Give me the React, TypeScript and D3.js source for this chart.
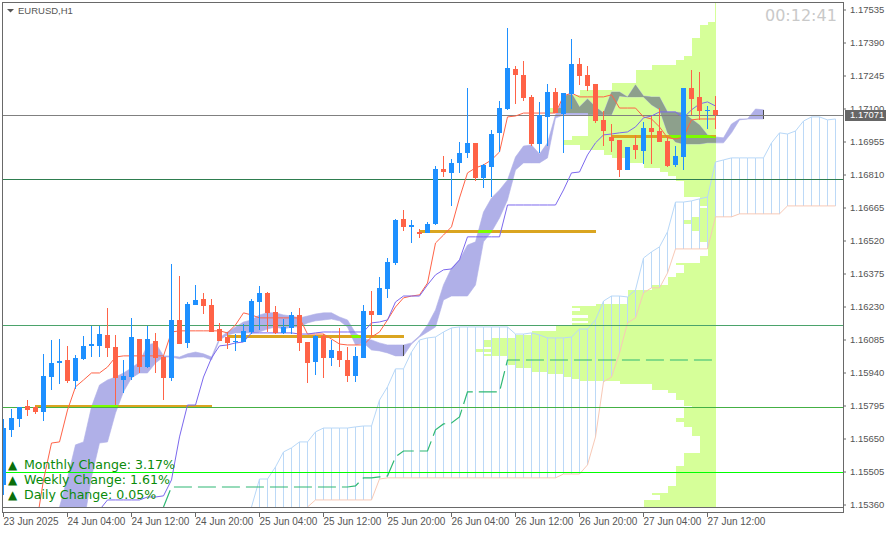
import React, { useRef, useEffect } from 'react';
import * as d3 from "d3";

// all prices in points (1.17071 = 117071)
const opens = [115446,115688,115736,115793,115789,115767,115920,115982,115995,115903,116000,116057,116057,116105,116052,115907,115920,116087,115964,116079,116008,115916,116171,116070,116237,116263,116237,116131,116096,116074,116074,116118,116250,116290,116206,116114,116136,116193,116074,115986,116101,116004,116035,115995,115925,116004,116210,116193,116307,116421,116615,116580,116558,116553,116593,116834,116817,116861,116905,116949,116795,116843,116993,117098,117274,117247,117151,116944,117063,117173,117076,117164,117296,117247,117208,117050,116975,116962,116830,116940,116914,117015,117001,116957,116852,116887,117190,117151,117089,117094];
const highs = [115736,115780,115789,115819,115793,116022,116083,116087,116057,116017,116101,116145,116145,116224,116105,115995,116180,116087,116145,116114,116013,116417,116364,116250,116325,116290,116263,116158,116118,116109,116153,116263,116320,116294,116232,116175,116206,116224,116074,116105,116109,116083,116136,116052,116052,116237,116298,116360,116443,116615,116654,116610,116571,116602,116848,116892,116878,116953,117190,116949,116856,117006,117133,117454,117287,117309,117160,117129,117208,117190,117168,117406,117322,117287,117208,117089,117032,116962,116931,116984,117041,117067,117102,116975,116935,117190,117269,117261,117111,117155];
const lows = [115402,115657,115701,115749,115758,115727,115863,115890,115894,115868,115995,116008,116008,116008,115797,115850,115907,115938,115960,115938,115819,115903,116065,116048,116237,116197,116118,116079,116043,116035,116074,116109,116127,116118,116109,116109,116109,116035,115894,115929,115916,115969,115964,115899,115899,116004,116101,116193,116268,116413,116562,116509,116531,116553,116588,116799,116672,116817,116883,116782,116751,116711,116909,117094,117120,117133,116935,116905,116935,117080,116905,117098,117204,117177,117037,116935,116909,116799,116830,116878,116856,116856,116953,116843,116843,116830,117072,117050,117010,117010];
const closes = [115696,115740,115789,115775,115767,115925,115982,115991,115903,116004,116057,116065,116109,116048,115916,115925,116096,115964,116087,116004,115916,116171,116065,116241,116259,116232,116118,116079,116070,116079,116123,116254,116290,116202,116114,116140,116193,116070,115982,116101,116004,116039,115995,115925,116013,116210,116193,116312,116426,116610,116580,116588,116549,116593,116834,116821,116861,116905,116949,116795,116852,116988,117102,117278,117247,117146,116944,117072,117173,117080,117168,117296,117243,117199,117045,117001,116957,116830,116931,116918,117015,116997,116953,116848,116892,117190,117142,117089,117094,117071];

// starts at bar 4
const tenkan = [115248,115468,115630,115635,115775,115877,115907,115938,115938,115964,116008,116013,116013,116013,116013,116013,116013,116118,116123,116123,116123,116123,116123,116123,116114,116149,116202,116193,116180,116180,116180,116180,116180,116180,116109,116109,116109,116087,116065,116061,116061,116061,116096,116118,116171,116228,116268,116276,116281,116333,116509,116544,116580,116707,116817,116839,116852,116874,116909,117063,117067,117080,117080,117080,117080,117080,117155,117168,117151,117151,117151,117151,117160,117102,117102,117102,117063,117054,117019,116971,116966,116975,117050,117054,117054,117054];
// starts at bar 12
const kijun = [115336,115380,115380,115380,115380,115380,115393,115393,115398,115468,115657,115797,115797,115920,116004,116057,116061,116070,116074,116114,116114,116114,116114,116114,116114,116109,116109,116114,116118,116118,116118,116118,116118,116118,116158,116162,116171,116250,116276,116276,116276,116325,116369,116391,116395,116435,116536,116536,116536,116536,116536,116676,116676,116676,116676,116676,116676,116676,116742,116817,116821,116896,116949,116984,116988,116993,116997,117019,117059,117067,117085,117085,117085,117059,117094,117120,117129,117111];
// starts at bar 20
const chikou = [115349,115437,115437,115437,115437,115437,115437,115437,115437,115437,115437,115437,115437,115437,115437,115437,115437,115437,115437,115437,115437,115437,115437,115437,115442,115477,115477,115481,115485,115569,115595,115595,115595,115595,115688,115714,115718,115745,115855,115855,115855,115855,115855,115995,115995,115995,115995,115995,115995,115995,115995,115995,115995,115995,115995,115995,115995,115995,115995,115995,115995,115995,115995,115995,115995,115995,115995,115995,115995,115995];

// lavender cloud, starts at bar 7
const cloudTop = [115349,115477,115622,115635,115789,115885,115907,115920,115938,115960,115986,116061,116070,116013,116013,116008,116022,116030,116022,116008,116092,116118,116140,116162,116171,116193,116202,116202,116193,116188,116180,116188,116197,116202,116202,116184,116171,116114,116087,116083,116070,116061,116061,116061,116070,116101,116149,116215,116325,116399,116435,116500,116514,116645,116707,116742,116786,116887,116935,116940,116900,116949,117072,117151,117168,117107,117142,117107,117080,117173,117173,117151,117204,117155,117151,117151,117085,117085,117080,117054,117028,116984,116975,116971,117032,117054,117054,117098,117094];
const cloudBottom = [115349,115204,115248,115270,115481,115630,115635,115762,115855,115916,115938,115938,115982,116008,116008,116000,116008,116008,116008,115995,116083,116105,116114,116114,116114,116118,116131,116140,116131,116140,116140,116158,116167,116171,116175,116167,116140,116061,116070,116039,116035,116026,116013,116013,116065,116096,116118,116140,116259,116276,116276,116276,116325,116514,116558,116619,116698,116830,116861,116861,116861,116883,117058,117072,117072,117072,117072,117072,117072,117072,117155,117151,117151,117151,117116,117094,116993,116953,116944,116944,116944,116949,116949,116949,116993,117050,117054,117054,117054];

// hatched cloud, starts at bar 31
const spanUpper = [115349,115472,115472,115525,115591,115609,115635,115635,115679,115696,115696,115696,115696,115701,115705,115705,115819,115877,115956,115956,116030,116083,116092,116096,116118,116136,116140,116140,116140,116140,116140,116140,116140,116109,116109,116114,116105,116092,116092,116092,116096,116131,116131,116171,116254,116276,116276,116272,116303,116443,116470,116492,116558,116689,116689,116694,116703,116711,116865,116874,116883,116883,116883,116883,116883,116949,116993,116988,117001,117045,117063,117063,117050,117054];
const spanLower = [115248,115248,115248,115248,115248,115248,115248,115349,115380,115380,115380,115380,115380,115380,115380,115380,115472,115477,115477,115477,115477,115477,115477,115477,115477,115477,115477,115477,115477,115477,115477,115477,115477,115477,115477,115477,115477,115477,115477,115494,115494,115494,115534,115657,115899,115920,116026,116158,116180,116290,116312,116312,116377,116483,116483,116483,116483,116483,116624,116624,116624,116637,116637,116637,116637,116637,116637,116672,116672,116672,116672,116672,116672,116672];

// volume profile: bin edges from the top, volume in tick counts
const profileEdges = [117564,117480,117467,117410,117331,117313,117291,117269,117212,117182,117160,117102,117080,116979,116962,116940,116918,116896,116883,116861,116839,116821,116804,116782,116711,116672,116663,116624,116610,116593,116562,116514,116452,116421,116413,116377,116360,116325,116303,116241,116232,116224,116210,116193,116180,116167,116158,116145,116123,116105,116092,116083,116052,116043,116030,116022,116013,115973,115960,115942,115934,115920,115912,115903,115890,115863,115850,115819,115793,115784,115740,115723,115701,115661,115586,115529,115442,115411,115402,115380,115349];
const profileVolume = [0.1,1,2,3,4,5,8,10,13,17,19,21,16,18,19,17,14,13,11,9,7,6,5,4,2,1,2,3,4,3,2,1,2,5,4,5,6,8,11,15,18,17,18,16,18,16,18,20,23,25,28,29,28,30,28,29,26,25,23,21,19,18,17,12,8,6,5,4,3,4,5,4,3,2,4,5,6,8,7,9];

const priceTicks = [115360,115505,115650,115795,115940,116085,116230,116375,116520,116665,116810,116955,117100,117245,117390,117535];
const dateLabels = ["23 Jun 2025","24 Jun 04:00","24 Jun 12:00","24 Jun 20:00","25 Jun 04:00","25 Jun 12:00","25 Jun 20:00","26 Jun 04:00","26 Jun 12:00","26 Jun 20:00","27 Jun 04:00","27 Jun 12:00"];
const dateBars = [0,8,16,24,32,40,48,56,64,72,80,88];

const levelPrices = [116790,116147,115789,115501,117071];
const levelColors = ["#2e7d4f","#4ba36b","#44b044","#00ff00","#808080"];

const pocPrices = [115789,116096,116558,116975];
const pocStart = [4,28,52,76];
const pocEnd = [26,50,74,89];

const changeLabels = ["Monthly Change: 3.17%","Weekly Change: 1.61%","Daily Change: 0.05%"];

const W = 889, H = 533;

export default function App() {
  const svgRef = useRef<SVGSVGElement>(null);

  useEffect(() => {
    if (!svgRef.current) return;
    const svg = d3.select(svgRef.current);
    svg.selectAll("*").remove();

    const left = 3, right = 843, top = 3, bottom = 507;
    const x = d3.scaleLinear().domain([0, 89]).range([3, 715]);
    const y = d3.scaleLinear().domain([115360, 117535]).range([504.5, 9.5]);
    const vol = d3.scaleLinear().domain([0, 1]).range([716, 708]);
    const font = "'Liberation Sans', sans-serif";

    svg.append("rect").attr("width", W).attr("height", H).attr("fill", "#fff");

    const defs = svg.append("defs");
    defs.append("clipPath").attr("id", "plot").append("rect")
      .attr("x", left).attr("y", top).attr("width", right - left).attr("height", bottom - top);

    const plot = svg.append("g").attr("clip-path", "url(#plot)");

    // volume profile
    let profilePath = "";
    profileVolume.forEach((v, i) => {
      const y0 = y(profileEdges[i]), y1 = y(profileEdges[i + 1]);
      profilePath += `M${vol(v)},${y0}H${vol(0)}V${y1}H${vol(v)}Z`;
    });
    plot.append("path").attr("d", profilePath).attr("fill", "#d6ff99").attr("shape-rendering", "crispEdges");
    defs.append("clipPath").attr("id", "profile").append("path").attr("d", profilePath);

    // hatched cloud
    const spanBars = spanUpper.map((_, i) => i + 31);
    plot.append("g").selectAll("line").data(spanBars.slice(1)).join("line")
      .attr("x1", d => x(d) + 0.5).attr("x2", d => x(d) + 0.5)
      .attr("y1", d => y(spanUpper[d - 31])).attr("y2", d => y(spanLower[d - 31]))
      .attr("stroke", "#bcd9f7").attr("shape-rendering", "crispEdges");
    const spanLine = (vals: number[], start: number) =>
      d3.line<number>().x((_, i) => x(i + start) + 0.5).y(d => y(d))(vals);
    plot.append("path").attr("d", spanLine(spanLower, 31)).attr("fill", "none").attr("stroke", "#f8c9b6");
    plot.append("path").attr("d", spanLine(spanUpper, 31)).attr("fill", "none").attr("stroke", "#b8d8f8");

    // lavender cloud
    const cloudArea = d3.area<number>()
      .x((_, i) => x(i + 7) + 0.5)
      .y0((_, i) => y(cloudBottom[i]))
      .y1(d => y(d));
    const cloudPath = cloudArea(cloudTop) as string;
    plot.append("path").attr("d", cloudPath).attr("fill", "#b0b0e8").attr("stroke", "#b0b0e8").attr("stroke-width", 0.6);
    plot.append("g").attr("clip-path", "url(#profile)").append("path")
      .attr("d", cloudPath).attr("fill", "#8da08c");
    defs.append("clipPath").attr("id", "cloud").append("path").attr("d", cloudPath);
    [50, 95].forEach(b => {
      plot.append("line")
        .attr("x1", x(b) + 0.5).attr("x2", x(b) + 0.5)
        .attr("y1", y(cloudTop[b - 7])).attr("y2", y(cloudBottom[b - 7]))
        .attr("stroke", "#4a4a4a").attr("shape-rendering", "crispEdges");
    });

    // point of control segments
    const pocs = plot.append("g");
    pocPrices.forEach((p, i) => {
      const seg = (g: any, color: string) => g.append("line")
        .attr("x1", x(pocStart[i])).attr("x2", x(pocEnd[i]) + 1)
        .attr("y1", y(p)).attr("y2", y(p))
        .attr("stroke", color).attr("stroke-width", 3).attr("shape-rendering", "crispEdges");
      seg(pocs, "#daa520");
      seg(pocs.append("g").attr("clip-path", "url(#cloud)"), "#7cfc00");
    });

    // chikou dashes
    plot.append("path").attr("d", spanLine(chikou, 20)).attr("fill", "none")
      .attr("stroke", "#2fb874").attr("stroke-dasharray", "18 6").attr("stroke-width", 1.2);

    // horizontal levels
    plot.append("g").selectAll("line").data(levelPrices).join("line")
      .attr("x1", left).attr("x2", right)
      .attr("y1", d => Math.round(y(d)) + 0.5).attr("y2", d => Math.round(y(d)) + 0.5)
      .attr("stroke", (_, i) => levelColors[i]).attr("shape-rendering", "crispEdges");

    // tenkan, kijun
    plot.append("path").attr("d", spanLine(tenkan, 4)).attr("fill", "none").attr("stroke", "#ff6347");
    plot.append("path").attr("d", spanLine(kijun, 12)).attr("fill", "none").attr("stroke", "#7b68ee");

    // candles
    const bull = "#1e90ff", bear = "#ff6347";
    const bars = plot.append("g").selectAll("g").data(opens.map((_, i) => i)).join("g");
    bars.append("line")
      .attr("x1", d => x(d) + 0.5).attr("x2", d => x(d) + 0.5)
      .attr("y1", d => y(highs[d])).attr("y2", d => y(lows[d]))
      .attr("stroke", d => closes[d] >= opens[d] ? bull : bear).attr("shape-rendering", "crispEdges");
    bars.append("rect")
      .attr("x", d => x(d) - 2).attr("width", 5)
      .attr("y", d => y(Math.max(opens[d], closes[d])))
      .attr("height", d => Math.max(1, Math.abs(y(opens[d]) - y(closes[d]))))
      .attr("fill", d => closes[d] >= opens[d] ? bull : bear).attr("shape-rendering", "crispEdges");

    // frame
    svg.append("path")
      .attr("d", `M2.5,2.5H${right + 0.5}V512.5H2.5ZM2.5,507.5H${right + 0.5}`)
      .attr("fill", "none").attr("stroke", "#696969").attr("shape-rendering", "crispEdges");

    // price axis
    const yAxis = d3.axisRight(y).tickValues(priceTicks)
      .tickFormat(d => (+d / 1e5).toFixed(5)).tickSize(3).tickPadding(4);
    const gy = svg.append("g").attr("transform", `translate(${right},0)`).call(yAxis);
    gy.select(".domain").remove();
    gy.selectAll("line").attr("stroke", "#696969");
    gy.selectAll("text").attr("font-family", font).attr("font-size", 9.5).attr("fill", "#555");

    // date axis
    const xAxis = d3.axisBottom(x).tickValues(dateBars)
      .tickFormat((_, i) => dateLabels[i]).tickSize(5).tickPadding(1);
    const gx = svg.append("g").attr("transform", "translate(0,512)").call(xAxis);
    gx.select(".domain").remove();
    gx.selectAll("line").attr("stroke", "#696969");
    gx.selectAll("text").attr("font-family", font).attr("font-size", 10).attr("fill", "#555")
      .attr("text-anchor", "start");

    // current price tag
    const bid = closes[closes.length - 1];
    svg.append("rect").attr("x", 845).attr("y", Math.round(y(bid)) - 5).attr("width", 41).attr("height", 11).attr("fill", "#666");
    svg.append("text").attr("x", 850).attr("y", y(bid)).attr("dy", "0.35em")
      .attr("font-family", font).attr("font-size", 9.5).attr("fill", "#fff").text((bid / 1e5).toFixed(5));

    // symbol title
    svg.append("path").attr("d", "M7,9H14L10.5,12.5Z").attr("fill", "#555");
    svg.append("text").attr("x", 18).attr("y", 14).attr("font-family", font).attr("font-size", 9.5)
      .attr("fill", "#555").text("EURUSD,H1");

    // countdown
    svg.append("text").attr("x", 765).attr("y", 21).attr("font-family", "'DejaVu Sans'").attr("font-size", 16)
      .attr("fill", "#c9c9c9").text("00:12:41");

    // change labels
    changeLabels.forEach((t, i) => {
      const ty = 469 + i * 15;
      svg.append("text").attr("x", 8).attr("y", ty).attr("font-family", "'DejaVu Sans'").attr("font-size", 12)
        .attr("fill", "#0b6e0b").text("▲");
      svg.append("text").attr("x", 24).attr("y", ty).attr("font-family", "'DejaVu Sans'").attr("font-size", 12.6)
        .attr("fill", "#0a8a0a").text(t);
    });
  }, []);

  return <svg ref={svgRef} width={W} height={H} style={{ position: "absolute", left: 0, top: 0 }}></svg>;
}
